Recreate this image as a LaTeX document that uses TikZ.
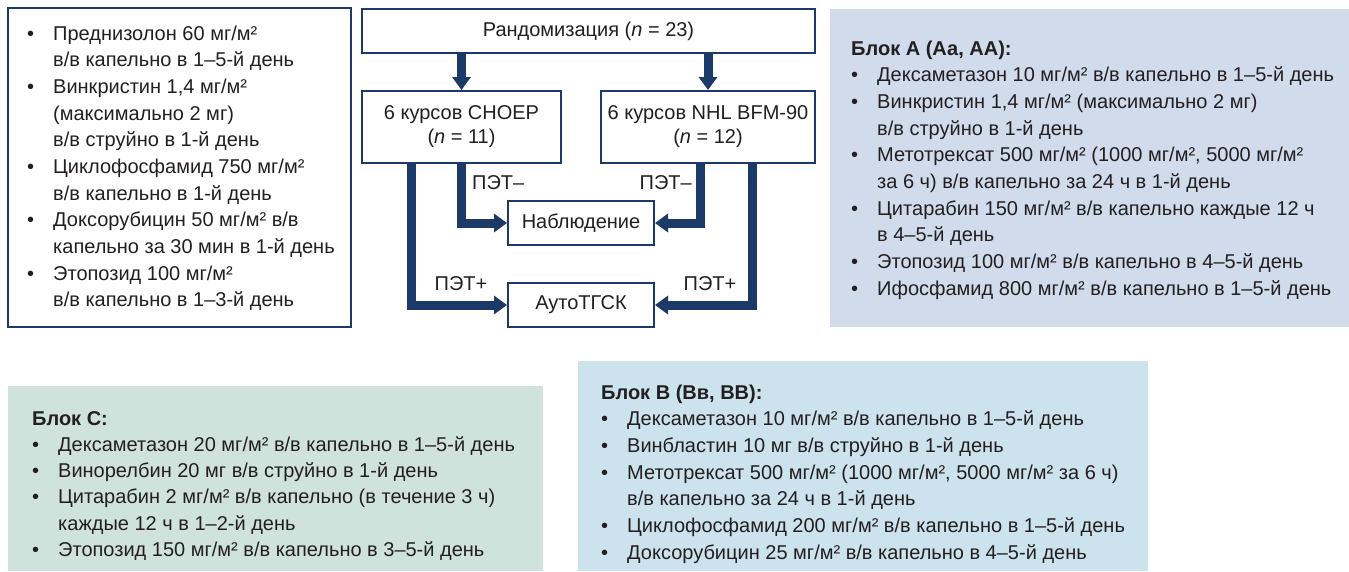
\documentclass[tikz,border=0pt]{standalone}
\usepackage{fontspec}
\setmainfont{Liberation Sans}
\usetikzlibrary{arrows.meta}
\definecolor{navy}{HTML}{1C3A68}
\definecolor{txt}{HTML}{231F20}
\definecolor{fillA}{HTML}{D0DBEB}
\definecolor{fillB}{HTML}{CCE2EC}
\definecolor{fillC}{HTML}{CFE2DB}
\newcommand{\itm}[1]{\par\noindent\makebox[26pt][l]{•}#1}
\newcommand{\cnt}[1]{\par\noindent\hspace*{26pt}#1}
\newcommand{\ttl}[1]{\par\noindent\textbf{#1}}
\tikzset{
  panel/.style={inner sep=0pt, outer sep=0pt, anchor=north west},
  listtext/.style={inner sep=0pt, anchor=base west, text=txt, font=\fontsize{20}{26.67}\selectfont},
  flowbox/.style={draw=navy, line width=2pt, fill=white, inner sep=0pt, text=txt,
    font=\fontsize{20}{24}\selectfont, align=center},
  thick arrow/.style={draw=navy, line width=9pt, line join=miter,
    -{Triangle[length=13pt, width=18pt]}},
  petlabel/.style={inner sep=0pt, text=txt, font=\fontsize{20}{24}\selectfont}
}
\begin{document}
\begin{tikzpicture}[x=1pt,y=-1pt]
\useasboundingbox (0,0) rectangle (1349,571);
\fill[white] (0,0) rectangle (1349,571);
\setlength{\parskip}{0pt}
% left regimen box
\node[panel, draw=navy, line width=2.5pt, minimum width=343pt, minimum height=319pt] (choepbox) at (8,8) {};
\node[listtext] (choeptext) at (27,40) {\parbox[t]{320pt}{%
\itm{Преднизолон 60 мг/м²}
\cnt{в/в капельно в 1–5-й день}
\itm{Винкристин 1,4 мг/м²}
\cnt{(максимально 2 мг)}
\cnt{в/в струйно в 1-й день}
\itm{Циклофосфамид 750 мг/м²}
\cnt{в/в капельно в 1-й день}
\itm{Доксорубицин 50 мг/м² в/в}
\cnt{капельно за 30 мин в 1-й день}
\itm{Этопозид 100 мг/м²}
\cnt{в/в капельно в 1–3-й день}}};
% block A
\node[panel, fill=fillA, minimum width=519pt, minimum height=318pt] (blockA) at (830,9) {};
\node[listtext] (blockAtext) at (851,55) {\parbox[t]{495pt}{%
\ttl{Блок А (Аа, АА):}
\itm{Дексаметазон 10 мг/м² в/в капельно в 1–5-й день}
\itm{Винкристин 1,4 мг/м² (максимально 2 мг)}
\cnt{в/в струйно в 1-й день}
\itm{Метотрексат 500 мг/м² (1000 мг/м², 5000 мг/м²}
\cnt{за 6 ч) в/в капельно за 24 ч в 1-й день}
\itm{Цитарабин 150 мг/м² в/в капельно каждые 12 ч}
\cnt{в 4–5-й день}
\itm{Этопозид 100 мг/м² в/в капельно в 4–5-й день}
\itm{Ифосфамид 800 мг/м² в/в капельно в 1–5-й день}}};
% block C
\node[panel, fill=fillC, minimum width=535pt, minimum height=185pt] (blockC) at (8,386) {};
\node[listtext, font=\fontsize{20}{26.3}\selectfont] (blockCtext) at (32,425) {\parbox[t]{505pt}{%
\ttl{Блок С:}
\itm{Дексаметазон 20 мг/м² в/в капельно в 1–5-й день}
\itm{Винорелбин 20 мг в/в струйно в 1-й день}
\itm{Цитарабин 2 мг/м² в/в капельно (в течение 3 ч)}
\cnt{каждые 12 ч в 1–2-й день}
\itm{Этопозид 150 мг/м² в/в капельно в 3–5-й день}}};
% block B
\node[panel, fill=fillB, minimum width=570pt, minimum height=210pt] (blockB) at (578,361) {};
\node[listtext] (blockBtext) at (601,399) {\parbox[t]{545pt}{%
\ttl{Блок В (Вв, ВВ):}
\itm{Дексаметазон 10 мг/м² в/в капельно в 1–5-й день}
\itm{Винбластин 10 мг в/в струйно в 1-й день}
\itm{Метотрексат 500 мг/м² (1000 мг/м², 5000 мг/м² за 6 ч)}
\cnt{в/в капельно за 24 ч в 1-й день}
\itm{Циклофосфамид 200 мг/м² в/в капельно в 1–5-й день}
\itm{Доксорубицин 25 мг/м² в/в капельно в 4–5-й день}}};
% flow chart
\node[flowbox, minimum width=453pt, minimum height=44pt] (rand) at (588.5,31) {Рандомизация (\textit{n} = 23)};
\node[flowbox, minimum width=199pt, minimum height=72pt] (choep) at (461.5,127) {6 курсов CHOEP\\(\textit{n} = 11)};
\node[flowbox, minimum width=214pt, minimum height=72pt] (nhl) at (708,127) {6 курсов NHL BFM-90\\(\textit{n} = 12)};
\node[flowbox, minimum width=146pt, minimum height=44pt] (obs) at (581,223) {Наблюдение};
\node[flowbox, minimum width=146pt, minimum height=44pt] (auto) at (581,305) {АутоТГСК};
\draw[thick arrow] (rand.south -| choep.north) -- (choep.north);
\draw[thick arrow] (rand.south -| nhl.north) -- (nhl.north);
\draw[thick arrow] (choep.south) |- (obs.west);
\draw[thick arrow] ([xshift=-50pt]choep.south) |- (auto.west);
\draw[thick arrow] ([xshift=-8pt]nhl.south) |- (obs.east);
\draw[thick arrow] ([xshift=44pt]nhl.south) |- (auto.east);
\node[petlabel, anchor=west] (lneg) at (472,183) {ПЭТ–};
\node[petlabel, anchor=east] (rneg) at (692,183) {ПЭТ–};
\node[petlabel] (lpos) at (461,284) {ПЭТ+};
\node[petlabel] (rpos) at (710,284) {ПЭТ+};
\end{tikzpicture}
\end{document}
